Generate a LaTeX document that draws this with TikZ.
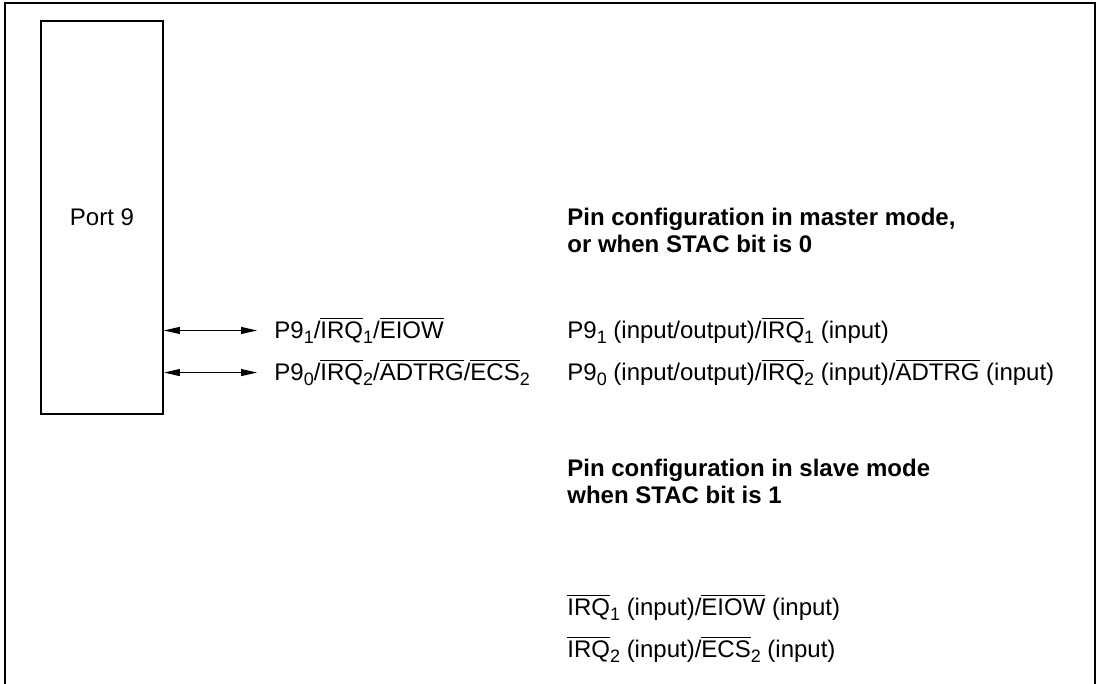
\documentclass[tikz,border=0pt]{standalone}
\usepackage{fontspec}
\setmainfont{Liberation Sans}
\usetikzlibrary{arrows.meta,positioning}
% active-low signal name and pin index
\newcommand{\actlow}[1]{\ensuremath{\overline{\mbox{#1}}}}
\newcommand{\pinsub}[1]{\raisebox{-0.45ex}{\fontsize{9}{10}\selectfont #1}}

\begin{document}
\begin{tikzpicture}[x=0.5pt, y=-0.5pt,
    every node/.style={font=\fontsize{12}{13.5}\selectfont, inner sep=0pt},
    portbox/.style={draw, line width=0.9pt, minimum width=61pt, minimum height=196.5pt},
    pinlbl/.style={anchor=base west},
    headlbl/.style={anchor=base west, align=left, font=\fontsize{12}{13.5}\selectfont\bfseries},
    pinarrow/.style={{Triangle[length=8pt,width=3.5pt]}-{Triangle[length=8pt,width=3.5pt]}, line width=0.5pt, shorten >=8.5pt}]
    \useasboundingbox (0,0) rectangle (1098,684);

    % Outer frame (open at the bottom)
    \draw[line width=0.9pt] (5,684) -- (5,3) -- (1095,3) -- (1095,684);

    % Port block
    \node[portbox] (port) at (102,217.5) {Port 9};

    % Pin names
    \node[pinlbl] (p91) at (274,338) {P9\pinsub{1}/\actlow{IRQ}\pinsub{1}/\actlow{EIOW}};
    \node[pinlbl] (p90) at (274,380) {P9\pinsub{0}/\actlow{IRQ}\pinsub{2}/\actlow{ADTRG}/\actlow{ECS}\pinsub{2}};

    % Arrows
    \draw[pinarrow] (port.east |- p91.west) -- (p91.west);
    \draw[pinarrow] (port.east |- p90.west) -- (p90.west);

    % Master mode (base = last line)
    \node[headlbl] (mhead) at (567,253) {Pin configuration in master mode,\\or when STAC bit is 0};
    \node[pinlbl] (m91) at (567,338) {P9\pinsub{1} (input/output)/\actlow{IRQ}\pinsub{1} (input)};
    \node[pinlbl] (m90) at (567,380) {P9\pinsub{0} (input/output)/\actlow{IRQ}\pinsub{2} (input)/\actlow{ADTRG} (input)};

    % Slave mode
    \node[headlbl] (shead) at (567,503) {Pin configuration in slave mode\\when STAC bit is 1};
    \node[pinlbl] (s91) at (567,615) {\actlow{IRQ}\pinsub{1} (input)/\actlow{EIOW} (input)};
    \node[pinlbl] (s90) at (567,657) {\actlow{IRQ}\pinsub{2} (input)/\actlow{ECS}\pinsub{2} (input)};
\end{tikzpicture}
\end{document}
